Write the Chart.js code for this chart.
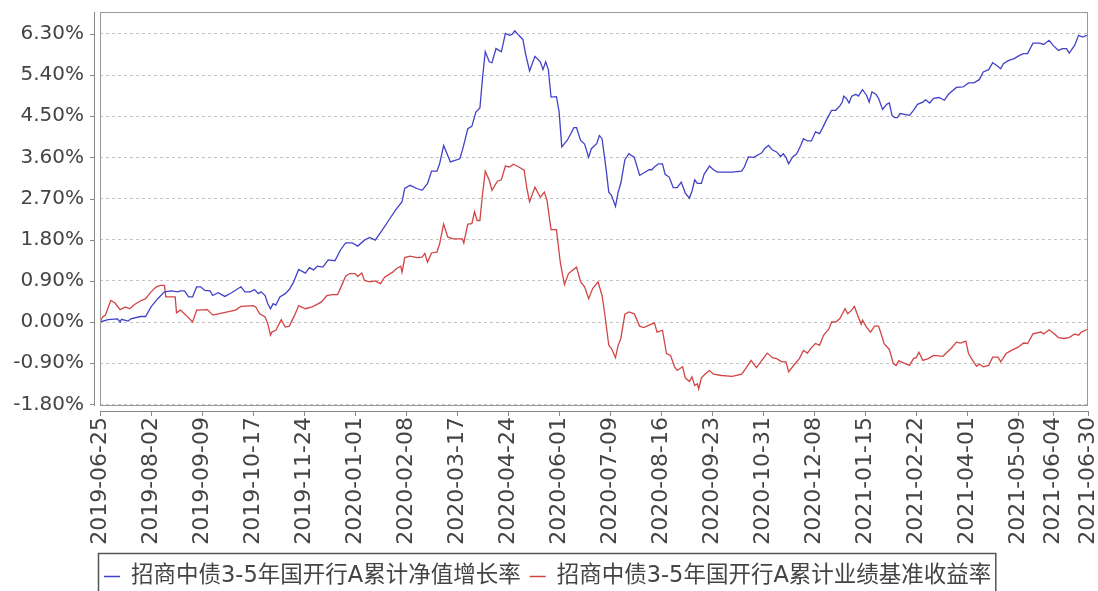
<!DOCTYPE html>
<html lang="zh-CN">
<head>
<meta charset="UTF-8">
<title>招商中债3-5年国开行A 累计净值增长率与业绩基准收益率</title>
<script src="https://cdn.jsdelivr.net/npm/chart.js"></script>
<style>
  html, body { margin: 0; padding: 0; background: #fff; }
</style>
</head>
<body>
<canvas id="navChart" width="1098" height="591"></canvas>

<script>
// 横轴：自 2019-06-25 起的自然日天数
const tickDays = [0, 38, 76, 114, 152, 190, 228, 266, 304, 342, 380, 418, 456, 494, 532, 570, 608, 646, 684, 710, 736];
const tickLabels = ['2019-06-25', '2019-08-02', '2019-09-09', '2019-10-17', '2019-11-24', '2020-01-01',
  '2020-02-08', '2020-03-17', '2020-04-24', '2020-06-01', '2020-07-09', '2020-08-16', '2020-09-23',
  '2020-10-31', '2020-12-08', '2021-01-15', '2021-02-22', '2021-04-01', '2021-05-09', '2021-06-04', '2021-06-30'];
const yTicks = [-1.8, -0.9, 0, 0.9, 1.8, 2.7, 3.6, 4.5, 5.4, 6.3];

const seriesNames = ['招商中债3-5年国开行A累计净值增长率', '招商中债3-5年国开行A累计业绩基准收益率'];

// 累计净值增长率（%）
const navDays = [
  0, 6, 13, 15, 16, 21, 23, 30, 34, 38, 43, 48, 53, 58, 60, 63, 66, 69, 72, 75,
  78, 82, 84, 88, 93, 98, 105, 108, 112, 115, 118, 120, 123, 125, 127, 129, 131, 134, 138, 141,
  144, 148, 153, 156, 159, 162, 166, 170, 175, 179, 183, 188, 192, 197, 201, 205, 210, 215, 220, 225,
  227, 231, 236, 240, 244, 247, 251, 253, 256, 261, 264, 268, 270, 274, 277, 280, 283, 285, 287, 290,
  292, 295, 299, 302, 305, 307, 309, 312, 315, 317, 320, 324, 328, 330, 332, 334, 336, 340, 342, 344,
  348, 350, 353, 355, 358, 361, 364, 366, 370, 372, 374, 377, 379, 381, 384, 386, 388, 391, 394, 398,
  402, 405, 409, 411, 413, 416, 419, 421, 424, 427, 430, 433, 436, 439, 441, 443, 445, 448, 450, 454,
  457, 460, 463, 471, 478, 480, 483, 487, 491, 493, 495, 498, 501, 504, 507, 509, 511, 513, 516, 519,
  522, 524, 527, 530, 533, 536, 538, 541, 543, 545, 548, 551, 553, 554, 556, 558, 560, 563, 565, 568,
  571, 573, 575, 578, 580, 583, 586, 588, 590, 592, 594, 596, 603, 606, 609, 613, 615, 618, 621, 625,
  629, 632, 638, 643, 647, 651, 655, 658, 662, 665, 669, 671, 673, 677, 681, 685, 688, 691, 695, 700,
  703, 707, 710, 714, 717, 720, 722, 726, 729, 732, 735, 736];
const navValues = [
  0.00, 0.05, 0.07, 0.00, 0.06, 0.02, 0.07, 0.12, 0.12, 0.33, 0.51, 0.66, 0.68, 0.66, 0.68, 0.68, 0.55, 0.55, 0.77, 0.77,
  0.69, 0.68, 0.58, 0.64, 0.56, 0.64, 0.77, 0.66, 0.66, 0.71, 0.62, 0.66, 0.58, 0.40, 0.29, 0.40, 0.37, 0.55, 0.62, 0.71,
  0.86, 1.15, 1.07, 1.19, 1.14, 1.22, 1.20, 1.36, 1.34, 1.57, 1.73, 1.73, 1.66, 1.79, 1.85, 1.79, 2.00, 2.22, 2.44, 2.63,
  2.92, 2.99, 2.92, 2.88, 3.03, 3.30, 3.30, 3.46, 3.86, 3.50, 3.53, 3.57, 3.76, 4.23, 4.28, 4.59, 4.68, 5.35, 5.91, 5.69,
  5.67, 5.98, 5.91, 6.31, 6.27, 6.29, 6.37, 6.27, 6.18, 5.87, 5.49, 5.81, 5.69, 5.52, 5.69, 5.52, 4.92, 4.93, 4.60, 3.83,
  3.97, 4.08, 4.25, 4.25, 3.97, 3.89, 3.60, 3.79, 3.90, 4.08, 4.01, 3.35, 2.84, 2.77, 2.53, 2.84, 3.04, 3.55, 3.68, 3.60,
  3.21, 3.26, 3.33, 3.33, 3.39, 3.46, 3.46, 3.23, 3.17, 2.94, 2.94, 3.06, 2.82, 2.71, 2.86, 3.11, 3.03, 3.03, 3.23, 3.41,
  3.33, 3.28, 3.28, 3.28, 3.30, 3.39, 3.61, 3.60, 3.67, 3.70, 3.79, 3.86, 3.76, 3.72, 3.62, 3.68, 3.60, 3.46, 3.61, 3.68,
  3.86, 4.01, 3.96, 3.96, 4.16, 4.12, 4.23, 4.41, 4.52, 4.63, 4.63, 4.72, 4.81, 4.94, 4.89, 4.79, 4.94, 4.98, 4.94, 5.08,
  4.96, 4.81, 5.03, 4.98, 4.89, 4.65, 4.76, 4.79, 4.52, 4.47, 4.47, 4.56, 4.52, 4.63, 4.76, 4.81, 4.86, 4.79, 4.89, 4.91,
  4.85, 4.98, 5.13, 5.14, 5.23, 5.23, 5.30, 5.47, 5.52, 5.67, 5.59, 5.54, 5.65, 5.72, 5.76, 5.83, 5.87, 5.87, 6.10, 6.10,
  6.07, 6.16, 6.05, 5.94, 5.98, 5.98, 5.88, 6.05, 6.27, 6.23, 6.27, 6.27];

// 累计业绩基准收益率（%）
const benchDays = [
  0, 2, 4, 8, 11, 15, 19, 22, 26, 30, 34, 38, 42, 45, 48, 49, 56, 57, 60, 64,
  69, 72, 80, 84, 88, 95, 101, 105, 114, 116, 119, 123, 125, 127, 128, 131, 135, 138, 141, 145,
  148, 153, 158, 162, 165, 169, 173, 177, 179, 183, 186, 190, 192, 195, 197, 201, 205, 209, 212, 218,
  221, 224, 225, 227, 231, 236, 240, 242, 244, 247, 251, 253, 256, 259, 263, 267, 270, 271, 274, 277,
  279, 281, 283, 285, 287, 290, 292, 296, 299, 302, 305, 308, 312, 316, 318, 320, 324, 328, 331, 333,
  336, 340, 343, 346, 349, 352, 355, 358, 361, 364, 367, 371, 374, 376, 379, 381, 384, 386, 388, 391,
  394, 398, 402, 405, 409, 413, 415, 419, 422, 425, 428, 430, 434, 436, 439, 441, 443, 445, 446, 448,
  451, 454, 457, 463, 471, 478, 481, 485, 489, 493, 497, 501, 504, 508, 511, 513, 517, 521, 524, 527,
  530, 533, 536, 539, 543, 545, 548, 551, 553, 555, 557, 560, 562, 564, 567, 568, 571, 574, 577, 580,
  583, 584, 588, 591, 593, 595, 599, 603, 606, 608, 610, 613, 617, 621, 628, 630, 634, 638, 641, 645,
  647, 650, 653, 655, 658, 662, 665, 669, 671, 675, 679, 684, 688, 691, 695, 701, 703, 707, 711, 714,
  718, 722, 726, 729, 731, 735, 736];
const benchValues = [
  0.00, 0.11, 0.15, 0.47, 0.42, 0.27, 0.33, 0.29, 0.39, 0.46, 0.51, 0.66, 0.77, 0.80, 0.80, 0.55, 0.55, 0.20, 0.26, 0.15,
  0.00, 0.26, 0.27, 0.15, 0.18, 0.22, 0.26, 0.34, 0.36, 0.33, 0.18, 0.11, -0.04, -0.29, -0.22, -0.18, 0.05, -0.11, -0.09, 0.15,
  0.36, 0.29, 0.33, 0.39, 0.44, 0.58, 0.60, 0.60, 0.73, 1.00, 1.06, 1.06, 1.00, 1.07, 0.91, 0.88, 0.90, 0.84, 0.98, 1.09,
  1.17, 1.22, 1.09, 1.41, 1.44, 1.41, 1.42, 1.50, 1.31, 1.51, 1.53, 1.71, 2.14, 1.86, 1.82, 1.82, 1.82, 1.73, 2.14, 2.15,
  2.41, 2.22, 2.22, 2.81, 3.30, 3.10, 2.88, 3.08, 3.11, 3.41, 3.39, 3.45, 3.39, 3.32, 2.92, 2.63, 2.95, 2.73, 2.84, 2.66,
  2.02, 2.02, 1.28, 0.82, 1.06, 1.13, 1.20, 0.88, 0.77, 0.51, 0.73, 0.88, 0.58, 0.18, -0.51, -0.58, -0.78, -0.51, -0.36, 0.17,
  0.22, 0.18, -0.09, -0.12, -0.07, -0.02, -0.22, -0.18, -0.69, -0.73, -0.98, -1.06, -0.98, -1.22, -1.30, -1.20, -1.39, -1.35, -1.46, -1.22,
  -1.13, -1.06, -1.14, -1.17, -1.19, -1.14, -1.02, -0.84, -1.00, -0.84, -0.68, -0.78, -0.80, -0.87, -0.87, -1.09, -0.94, -0.80, -0.62, -0.68,
  -0.56, -0.47, -0.51, -0.29, -0.15, 0.00, 0.00, 0.07, 0.18, 0.29, 0.18, 0.26, 0.34, 0.18, -0.05, 0.04, -0.11, -0.22, -0.09, -0.09,
  -0.36, -0.47, -0.60, -0.91, -0.95, -0.85, -0.90, -0.95, -0.80, -0.78, -0.66, -0.84, -0.80, -0.73, -0.75, -0.69, -0.58, -0.44, -0.46, -0.42,
  -0.69, -0.84, -0.97, -0.92, -0.98, -0.95, -0.77, -0.77, -0.87, -0.69, -0.62, -0.55, -0.46, -0.47, -0.26, -0.22, -0.26, -0.17, -0.26, -0.34,
  -0.36, -0.34, -0.26, -0.29, -0.22, -0.17, -0.15];

const lineColors = ['#4242c8', '#d24444'];
const textColor = '#444';
const sansFont = '"DejaVu Sans", "Noto Sans CJK SC", sans-serif';

function toPoints(days, values) {
  return days.map((d, i) => ({ x: d, y: values[i] }));
}

// 外框、错开的坐标轴线与刻度、带边框的图例
const framePlugin = {
  id: 'frame',
  afterDraw(chart) {
    const { ctx, chartArea: a, scales } = chart;
    const x = scales.x, y = scales.y;
    ctx.save();

    ctx.strokeStyle = '#999';
    ctx.lineWidth = 1;
    ctx.strokeRect(a.left + 0.5, a.top + 0.5, a.right - a.left - 1, a.bottom - a.top);

    ctx.strokeStyle = '#888';
    ctx.beginPath();
    ctx.moveTo(a.left - 5.5, a.top);
    ctx.lineTo(a.left - 5.5, a.bottom + 1);
    y.ticks.forEach(t => {
      const py = Math.round(y.getPixelForValue(t.value)) + 0.5;
      ctx.moveTo(a.left - 10, py);
      ctx.lineTo(a.left - 5, py);
    });
    ctx.moveTo(a.left, a.bottom + 6.5);
    ctx.lineTo(a.right, a.bottom + 6.5);
    x.ticks.forEach(t => {
      const px = Math.round(x.getPixelForValue(t.value)) + 0.5;
      ctx.moveTo(px, a.bottom + 6);
      ctx.lineTo(px, a.bottom + 11);
    });
    ctx.stroke();

    // 图例
    const ly = chart.height - 15;
    const start = a.left;
    let cx = start + 4;
    ctx.font = '22.5px ' + sansFont;
    ctx.textBaseline = 'middle';
    ctx.textAlign = 'left';
    chart.data.datasets.forEach(ds => {
      ctx.strokeStyle = ds.borderColor;
      ctx.lineWidth = 1.5;
      ctx.beginPath();
      ctx.moveTo(cx, ly + 0.5);
      ctx.lineTo(cx + 16, ly + 0.5);
      ctx.stroke();
      cx += 27;
      ctx.fillStyle = textColor;
      ctx.fillText(ds.label, cx, ly);
      cx += ctx.measureText(ds.label).width + 9;
    });
    ctx.strokeStyle = '#555';
    ctx.lineWidth = 1.5;
    ctx.strokeRect(start - 1.5, chart.height - 37.5, cx - start - 3, 60);
    ctx.restore();
  }
};

new Chart(document.getElementById('navChart'), {
  type: 'line',
  data: {
    datasets: [
      { label: seriesNames[0], data: toPoints(navDays, navValues), borderColor: lineColors[0], backgroundColor: lineColors[0] },
      { label: seriesNames[1], data: toPoints(benchDays, benchValues), borderColor: lineColors[1], backgroundColor: lineColors[1] }
    ]
  },
  options: {
    responsive: false,
    animation: false,
    devicePixelRatio: 1,
    layout: { padding: { top: 12, right: 10, bottom: 46, left: 0 } },
    elements: {
      line: { borderWidth: 1.3, tension: 0 },
      point: { radius: 0, hoverRadius: 0 }
    },
    plugins: {
      legend: { display: false },
      tooltip: { enabled: false }
    },
    scales: {
      x: {
        type: 'linear',
        min: 0,
        max: 736,
        afterBuildTicks: s => { s.ticks = tickDays.map(v => ({ value: v })); },
        afterFit: s => { s.height = 140; s.paddingLeft = 0; s.paddingRight = 0; },
        ticks: {
          autoSkip: false,
          minRotation: 90,
          maxRotation: 90,
          padding: 12,
          color: textColor,
          font: { family: sansFont, size: 22 },
          callback: v => tickLabels[tickDays.indexOf(v)]
        },
        grid: { drawOnChartArea: false, drawTicks: false },
        border: { display: false }
      },
      y: {
        min: -1.815,
        max: 6.78,
        afterBuildTicks: s => { s.ticks = yTicks.map(v => ({ value: v })); },
        afterFit: s => { s.width = 100; s.paddingTop = 0; s.paddingBottom = 0; },
        ticks: {
          padding: 16,
          color: textColor,
          font: { family: sansFont, size: 20 },
          callback: v => v.toFixed(2) + '%'
        },
        grid: { color: '#c4c4c4', lineWidth: 1, drawTicks: false },
        border: { display: false, dash: [3, 3] }
      }
    }
  },
  plugins: [framePlugin]
});
</script>
</body>
</html>
